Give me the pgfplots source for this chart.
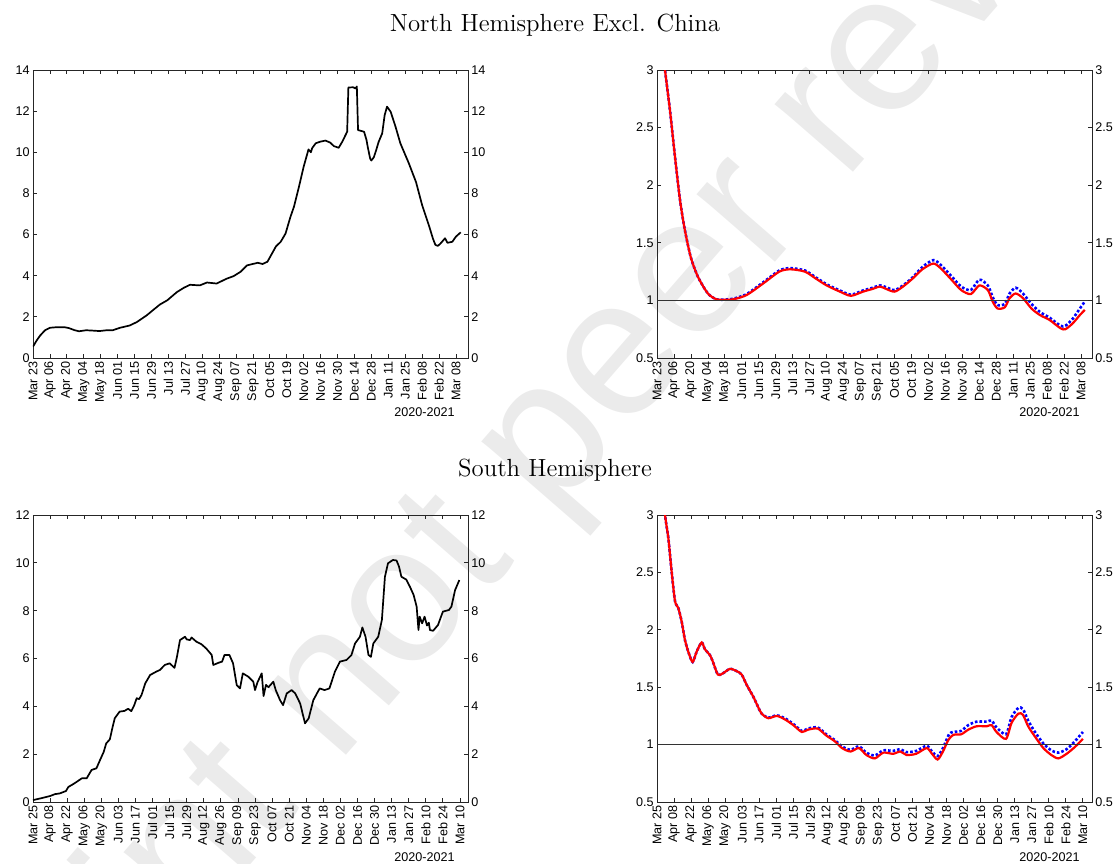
\documentclass[border=0pt]{standalone}
\usepackage{fontspec}
\newfontfamily\arialfont{Liberation Sans}
\usepackage{pgfplots}
\pgfplotsset{compat=1.18}
\pgfplotsset{
  base/.style={scale only axis, width=217.5pt, height=144pt, anchor=south west,
    tick align=inside, major tick length=1.8pt,
    axis line style={black!85, line width=0.45pt},
    every tick/.style={black!85, line width=0.4pt},
    tick label style={font=\arialfont\fontsize{6.3}{7}\selectfont, /pgf/number format/assume math mode=true},
    yticklabel style={/pgf/number format/fixed, inner sep=1.5pt},
    xtick={0,14,...,350},
    xticklabel style={rotate=90, anchor=east, inner sep=1.5pt},
    xmin=0},
  rlab/.style={scale only axis, width=217.5pt, height=144pt, anchor=south west,
    hide x axis, axis y line*=right, tick align=inside, major tick length=1.8pt,
    axis line style={black!85, line width=0.45pt},
    every tick/.style={black!85, line width=0.4pt},
    tick label style={font=\arialfont\fontsize{6.3}{7}\selectfont, /pgf/number format/assume math mode=true},
    yticklabel style={/pgf/number format/fixed, inner sep=1.5pt},
    xmin=0},
  topx/.style={xticklabels={Mar 23,Apr 06,Apr 20,May 04,May 18,Jun 01,Jun 15,Jun 29,Jul 13,Jul 27,Aug 10,Aug 24,Sep 07,Sep 21,Oct 05,Oct 19,Nov 02,Nov 16,Nov 30,Dec 14,Dec 28,Jan 11,Jan 25,Feb 08,Feb 22,Mar 08}},
  botx/.style={xticklabels={Mar 25,Apr 08,Apr 22,May 06,May 20,Jun 03,Jun 17,Jul 01,Jul 15,Jul 29,Aug 12,Aug 26,Sep 09,Sep 23,Oct 07,Oct 21,Nov 04,Nov 18,Dec 02,Dec 16,Dec 30,Jan 13,Jan 27,Feb 10,Feb 24,Mar 10}},
  cases/.style={black, line width=0.85pt, line join=round},
  redl/.style={red, line width=1.1pt, smooth, tension=0.45},
  bluel/.style={blue, line width=1.3pt, densely dotted, smooth, tension=0.45},
  oneline/.style={black!80, line width=0.5pt},
}
\begin{document}
\begin{tikzpicture}
\useasboundingbox (0,0) rectangle (558.5pt,-431.5pt);
% watermark
\node[rotate=49, anchor=base west, text=black!8, inner sep=0pt,
  font=\arialfont\fontsize{98}{100}\selectfont] at (168.5pt,-383pt) {not peer reviewed};
\node[rotate=49, anchor=base east, text=black!8, inner sep=0pt,
  font=\arialfont\fontsize{98}{100}\selectfont] at (168.5pt,-383pt) {Preprint\kern0.278em};
% titles
\node[anchor=base, font=\fontsize{12.4}{14}\selectfont] at (277.5pt,-15.5pt) {North Hemisphere Excl. China};
\node[anchor=base, font=\fontsize{12.4}{14}\selectfont] at (277.5pt,-238pt) {South Hemisphere};

% ---------- TL ----------
\begin{axis}[base, topx, at={(16.5pt,-179pt)}, xmax=360, ymin=0, ymax=14, ytick={0,2,...,14}]
\addplot[cases] coordinates {
(0,0.55) (3,0.85) (6,1.1) (10,1.35) (14,1.47) (20,1.5) (26,1.5) (30,1.45) (34,1.36) (38,1.3)
(44,1.35) (50,1.33) (55,1.31) (61,1.35) (66,1.35) (72,1.47) (80,1.58) (86,1.75) (94,2.07)
(100,2.36) (105,2.6) (111,2.8) (119,3.2) (125,3.42) (130,3.56) (138,3.53) (144,3.67) (152,3.62)
(160,3.85) (166,3.98) (172,4.2) (177,4.5) (186,4.63) (190,4.57) (194,4.68) (198,5.1) (201,5.42)
(205,5.65) (209,6.05) (213,6.85) (216,7.36) (220,8.3) (224,9.3) (228,10.14) (230,10.0) (231,10.2)
(234,10.44) (238,10.52) (242,10.57) (246,10.47) (249,10.3) (253,10.22) (256,10.52) (260,11.0)
(261,13.15) (265,13.16) (267,13.1) (268,13.2) (269,11.08) (274,11.0) (276,10.6) (277,10.27) (279,9.7) (280,9.6)
(282,9.75) (284,10.1) (286,10.5) (289,10.92) (291,11.8) (293,12.22) (296,11.97) (300,11.25) (304,10.44)
(311,9.47) (317,8.55) (322,7.44) (328,6.38) (331,5.8) (333,5.5) (335,5.45) (337,5.55) (341,5.82) (343,5.6) (347,5.65)
(350,5.9) (354,6.11)};
\end{axis}
\begin{axis}[rlab, at={(16.5pt,-179pt)}, xmax=360, ymin=0, ymax=14, ytick={0,2,...,14}]
\end{axis}
\node[anchor=base east, font=\arialfont\fontsize{6.3}{7}\selectfont, inner sep=0pt] at (227.5pt,-208pt) {2020-2021};

% ---------- TR ----------
\begin{axis}[base, topx, at={(328.5pt,-179pt)}, xmax=359, ymin=0.5, ymax=3, ytick={0.5,1,...,3}]
\addplot[bluel] coordinates {
(0,3.75) (3,3.35) (6.6,3.0) (10.7,2.65) (14.8,2.25) (19,1.87) (23,1.61) (28,1.37) (34,1.2)
(42,1.06) (49,1.01) (56,1.007) (63,1.015) (74,1.055) (88,1.16) (101,1.26) (110,1.28) (122,1.26)
(131,1.2) (140,1.14) (151,1.086) (160,1.05) (170,1.086) (178,1.11) (184,1.13) (189,1.115)
(196,1.09) (203,1.13) (211,1.20) (219,1.29) (228,1.35) (234,1.31) (243,1.21) (251,1.12)
(259,1.09) (266,1.18) (273,1.13) (277,1.03) (281,0.96) (287,0.97) (291,1.06) (296,1.11)
(302,1.06) (309,0.97) (316,0.90) (324,0.85) (333,0.78) (337,0.78) (343,0.84) (349,0.93) (353,0.99)};
\addplot[redl] coordinates {
(0,3.75) (3,3.35) (6.6,3.0) (10.7,2.65) (14.8,2.25) (19,1.87) (23,1.61) (28,1.37) (34,1.2)
(42,1.06) (49,1.01) (56,1.005) (63,1.01) (74,1.047) (88,1.15) (101,1.25) (110,1.27) (122,1.25)
(131,1.19) (140,1.13) (151,1.076) (160,1.04) (170,1.076) (178,1.10) (184,1.12) (189,1.10)
(196,1.076) (203,1.12) (211,1.19) (219,1.27) (228,1.32) (234,1.28) (243,1.18) (251,1.09)
(259,1.055) (266,1.13) (273,1.09) (277,0.99) (281,0.93) (287,0.94) (291,1.02) (296,1.06)
(302,1.02) (309,0.93) (316,0.873) (324,0.83) (333,0.758) (337,0.75) (343,0.80) (349,0.873) (353,0.917)};
\addplot[oneline] coordinates {(0,1) (359,1)};
\end{axis}
\begin{axis}[rlab, at={(328.5pt,-179pt)}, xmax=359, ymin=0.5, ymax=3, ytick={0.5,1,...,3}]
\end{axis}
\node[anchor=base east, font=\arialfont\fontsize{6.3}{7}\selectfont, inner sep=0pt] at (540pt,-208pt) {2020-2021};

% ---------- BL ----------
\begin{axis}[base, botx, at={(16.5pt,-401pt)}, height=143.5pt, xmax=356.6, ymin=0, ymax=12, ytick={0,2,...,12}]
\addplot[cases] coordinates {
(0,0.08) (6,0.15) (14,0.25) (18,0.33) (22,0.36) (27,0.46) (29,0.63) (33,0.75) (36,0.85) (40,0.99)
(44,0.99) (48,1.34) (52,1.41) (55,1.76) (58,2.1) (60,2.45) (63,2.62) (65,3.08) (67,3.5) (71,3.78)
(75,3.81) (78,3.9) (80.6,3.8) (83,4.05) (85,4.34) (87,4.3) (89,4.48) (92,4.96) (96,5.31) (101,5.45)
(104,5.52) (108,5.73) (112,5.8) (116,5.61) (118,6.07) (120.5,6.77) (124.6,6.91) (126,6.8)
(128.7,6.77) (130,6.88) (134,6.70) (138,6.6) (142,6.42) (146.5,6.15) (147.8,5.73) (152,5.82)
(155,5.87) (157,6.15) (161,6.15) (164,5.8) (167,4.89) (169.7,4.75) (172,5.38) (176.5,5.24)
(180.6,5.03) (182,4.68) (184,5.0) (187.5,5.38) (189,4.43) (191,4.9) (193,4.8) (197,5.03)
(199,4.68) (202.5,4.26) (205,4.05) (208,4.54) (212,4.68) (215,4.54) (219,4.12) (223,3.29)
(226,3.5) (229.8,4.26) (235,4.75) (239,4.68) (243,4.75) (247.5,5.45) (251.6,5.87) (257,5.94)
(261,6.14) (264,6.63) (268,6.91) (270,7.30) (272.6,6.91) (275,6.15) (277,6.07) (279,6.63)
(283,6.91) (286,7.61) (288.5,9.42) (291,9.98) (295,10.12) (298,10.1) (300,9.85) (302,9.42)
(306,9.3) (309,9.0) (312,8.66) (314.5,8.17) (316,7.19) (317,7.75) (319,7.47) (321,7.75)
(323,7.38) (324.5,7.5) (325.4,7.19) (328,7.16) (332,7.4) (336,7.96) (341,8.03) (343,8.17)
(346,8.86) (349.5,9.28)};
\end{axis}
\begin{axis}[rlab, at={(16.5pt,-401pt)}, height=143.5pt, xmax=356.6, ymin=0, ymax=12, ytick={0,2,...,12}]
\end{axis}
\node[anchor=base east, font=\arialfont\fontsize{6.3}{7}\selectfont, inner sep=0pt] at (227.5pt,-430.5pt) {2020-2021};

% ---------- BR ----------
\begin{axis}[base, botx, at={(328.5pt,-401pt)}, height=143.5pt, xmax=357.5, ymin=0.5, ymax=3, ytick={0.5,1,...,3}]
\addplot[bluel] coordinates {
(0,3.9) (3,3.4) (6.6,3.0) (9.3,2.80) (12,2.51) (14.8,2.25) (17.5,2.19) (20.3,2.07) (23,1.91)
(26,1.80) (29.3,1.72) (32.6,1.81) (36.7,1.89) (39.4,1.83) (43.5,1.78) (46,1.72) (50,1.61)
(54,1.62) (60,1.66) (65.5,1.64) (69.6,1.61) (73.7,1.52) (79,1.42) (83,1.33) (86,1.27)
(91.5,1.235) (98.4,1.255) (105,1.23) (112,1.18) (119,1.12) (124,1.14) (132,1.15) (139,1.09)
(146,1.04) (152,0.985) (159,0.955) (166,0.985) (172,0.93) (179,0.905) (186,0.95) (194,0.945)
(200,0.96) (205,0.935) (213,0.945) (221.6,0.99) (226,0.94) (230.6,0.9) (235,0.97) (240,1.09)
(243.5,1.11) (250,1.12) (255.8,1.17) (262.7,1.20) (271,1.20) (275,1.21) (279,1.15) (286.8,1.09)
(291.4,1.24) (297,1.32) (300.7,1.31) (305,1.21) (310.6,1.11) (317.5,1.01) (324,0.95) (329.8,0.93)
(336.6,0.96) (343.5,1.03) (350,1.11)};
\addplot[redl] coordinates {
(0,3.9) (3,3.4) (6.6,3.0) (9.3,2.80) (12,2.51) (14.8,2.25) (17.5,2.19) (20.3,2.07) (23,1.91)
(26,1.80) (29.3,1.72) (32.6,1.81) (36.7,1.89) (39.4,1.83) (43.5,1.78) (46,1.72) (50,1.61)
(54,1.62) (60,1.66) (65.5,1.64) (69.6,1.61) (73.7,1.52) (79,1.42) (83,1.33) (86,1.27)
(91.5,1.23) (98.4,1.25) (105,1.22) (112,1.17) (119,1.11) (124,1.13) (132,1.14) (139,1.08)
(146,1.03) (152,0.97) (159,0.94) (166,0.97) (172,0.91) (179,0.88) (186,0.93) (194,0.92)
(200,0.94) (205,0.91) (213,0.92) (221.6,0.97) (226,0.92) (230.6,0.87) (235,0.94) (239.4,1.04)
(243.5,1.085) (250,1.09) (255.8,1.13) (262.7,1.16) (271,1.16) (275,1.17) (279,1.11) (286.8,1.05)
(291.4,1.19) (297,1.27) (300.7,1.26) (305,1.16) (310.6,1.07) (317.5,0.97) (324,0.91) (329.8,0.88)
(336.6,0.92) (343.5,0.98) (350,1.05)};
\addplot[oneline] coordinates {(0,1) (357.5,1)};
\end{axis}
\begin{axis}[rlab, at={(328.5pt,-401pt)}, height=143.5pt, xmax=357.5, ymin=0.5, ymax=3, ytick={0.5,1,...,3}]
\end{axis}
\node[anchor=base east, font=\arialfont\fontsize{6.3}{7}\selectfont, inner sep=0pt] at (540pt,-430.5pt) {2020-2021};
\end{tikzpicture}
\end{document}
